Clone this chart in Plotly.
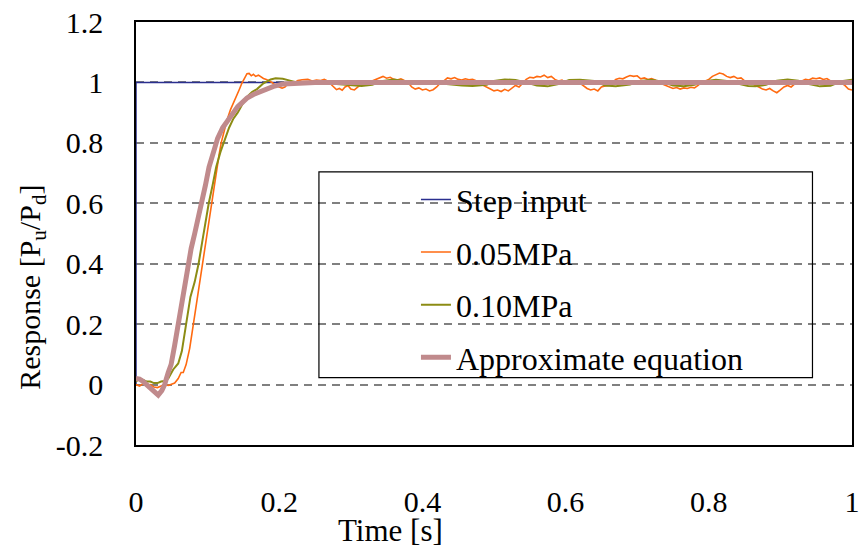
import plotly.graph_objects as go

# ---------------- data ----------------
step_t = [0, 0, 1.0]
step_v = [0, 1, 1]

p05_t = [0, 0.005, 0.01, 0.015, 0.02, 0.025, 0.03, 0.035, 0.04, 0.045, 0.049, 0.054, 0.059, 0.063,
         0.066, 0.070, 0.075, 0.080, 0.085, 0.089, 0.093, 0.097, 0.101, 0.105, 0.109, 0.113, 0.116,
         0.119, 0.123, 0.127, 0.132, 0.136, 0.140, 0.144, 0.148, 0.151, 0.155, 0.158, 0.161, 0.164,
         0.167, 0.171, 0.174, 0.178, 0.182, 0.186, 0.19, 0.195, 0.2, 0.204, 0.208, 0.212, 0.217, 0.222,
         0.226, 0.232, 0.24, 0.246, 0.252, 0.258, 0.263, 0.268, 0.274, 0.28, 0.284, 0.288, 0.292, 0.296,
         0.3, 0.305, 0.31, 0.316, 0.323, 0.33, 0.335, 0.34, 0.345, 0.35, 0.355, 0.36, 0.365, 0.37, 0.376,
         0.38, 0.385, 0.39, 0.395, 0.40, 0.405, 0.41, 0.415, 0.42, 0.425, 0.43, 0.435, 0.44, 0.445, 0.45,
         0.455, 0.46, 0.465, 0.47, 0.475, 0.48, 0.485, 0.49, 0.495, 0.50, 0.505, 0.51, 0.515, 0.52, 0.525,
         0.53, 0.535, 0.54, 0.545, 0.55, 0.555, 0.56, 0.565, 0.57, 0.575, 0.58, 0.585, 0.59, 0.595, 0.60,
         0.605, 0.61, 0.615, 0.62, 0.625, 0.63, 0.635, 0.64, 0.645, 0.65, 0.655, 0.66, 0.665, 0.67, 0.675,
         0.68, 0.685, 0.69, 0.695, 0.70, 0.705, 0.71, 0.715, 0.72, 0.725, 0.73, 0.735, 0.74, 0.745, 0.75,
         0.755, 0.76, 0.765, 0.77, 0.775, 0.78, 0.785, 0.79, 0.795, 0.80, 0.805, 0.81, 0.815, 0.82, 0.825,
         0.83, 0.835, 0.84, 0.845, 0.85, 0.855, 0.86, 0.865, 0.87, 0.875, 0.88, 0.885, 0.89, 0.895, 0.9,
         0.905, 0.91, 0.915, 0.92, 0.925, 0.93, 0.935, 0.94, 0.945, 0.95, 0.955, 0.96, 0.965, 0.97, 0.975,
         0.98, 0.985, 0.99, 0.995, 1.0]
p05_v = [0.0, -0.005, 0.003, -0.003, 0.0, -0.008, -0.01, -0.005, 0.0, -0.003, 0.0, 0.005, 0.02, 0.04,
         0.04, 0.066, 0.12, 0.2, 0.27, 0.33, 0.4, 0.47, 0.53, 0.6, 0.66, 0.72, 0.76,
         0.8, 0.84, 0.875, 0.91, 0.93, 0.954, 0.975, 0.998, 1.01, 1.029, 1.03, 1.022, 1.027,
         1.02, 1.024, 1.018, 1.013, 1.01, 1.005, 1.0, 0.99, 0.985, 0.981, 0.985, 0.995, 1.003, 1.0,
         1.006, 1.009, 1.01, 1.005, 1.008, 1.006, 1.01, 1.004, 0.99, 0.976, 0.98, 0.974, 0.985, 0.99,
         0.978, 0.975, 0.985, 0.995, 0.998, 1.005, 1.012, 1.017, 1.02, 1.014, 1.017, 1.01, 1.008, 1.012, 1.006,
         1.0, 0.985, 0.978, 0.982, 0.975, 0.978, 0.972, 0.976, 0.985, 0.998, 1.005, 1.015, 1.012, 1.016, 1.01,
         1.008, 1.012, 1.009, 1.01, 1.006, 1.0, 0.99, 0.985, 0.978, 0.972, 0.975, 0.97, 0.977, 0.972, 0.98,
         0.99, 0.985, 0.998, 1.01, 1.017, 1.015, 1.02, 1.018, 1.024, 1.016, 1.02, 1.01, 1.005, 1.008, 1.0,
         0.998, 1.002, 0.996, 0.998, 0.99, 0.98, 0.975, 0.978, 0.972, 0.985, 0.988, 0.99, 0.998, 1.01, 1.014,
         1.012, 1.018, 1.023, 1.02, 1.022, 1.012, 1.015, 1.01, 1.013, 1.008, 1.0, 0.995, 0.99, 0.985, 0.98,
         0.983, 0.978, 0.982, 0.98, 0.984, 0.982, 0.99, 1.0, 1.005, 1.01, 1.02, 1.025, 1.031, 1.028, 1.02,
         1.016, 1.02, 1.013, 1.015, 1.005, 1.0, 0.998, 0.99, 0.985, 0.978, 0.975, 0.98, 0.972, 0.966, 0.975,
         0.985, 0.99, 0.985, 0.995, 0.998, 1.005, 1.01, 1.008, 1.014, 1.012, 1.015, 1.01, 1.013, 1.005, 1.0,
         1.002, 0.998, 0.99, 0.978, 0.975]

p10_t = [0, 0.005, 0.01, 0.015, 0.02, 0.025, 0.03, 0.035, 0.04, 0.045, 0.052, 0.059, 0.064, 0.070, 0.076,
         0.082, 0.0874, 0.093, 0.0975, 0.1016, 0.107, 0.112, 0.118, 0.124, 0.130, 0.136, 0.142, 0.148,
         0.155, 0.162, 0.169, 0.178, 0.188, 0.195, 0.205, 0.215, 0.225, 0.24, 0.26, 0.28, 0.30, 0.315,
         0.33, 0.345, 0.36, 0.375, 0.39, 0.41, 0.43, 0.455, 0.47, 0.49, 0.50, 0.515, 0.53, 0.545, 0.56,
         0.575, 0.59, 0.605, 0.62, 0.64, 0.655, 0.67, 0.69, 0.705, 0.72, 0.735, 0.75, 0.765, 0.78, 0.795,
         0.81, 0.825, 0.84, 0.855, 0.865, 0.88, 0.895, 0.91, 0.925, 0.94, 0.955, 0.97, 0.985, 1.0]
p10_v = [0.01, 0.02, 0.015, 0.01, 0.01, 0.005, 0.005, 0.01, 0.012, 0.02, 0.05, 0.07, 0.11, 0.2, 0.29,
         0.34, 0.4, 0.48, 0.55, 0.6, 0.66, 0.72, 0.77, 0.81, 0.85, 0.88, 0.9, 0.925,
         0.952, 0.968, 0.978, 0.997, 1.01, 1.014, 1.012, 1.006, 1.0, 0.997, 1.0, 0.995, 0.99, 0.988,
         0.992, 1.005, 1.01, 1.006, 1.0, 0.998, 0.996, 0.99, 0.988, 0.992, 1.005, 1.01, 1.008, 1.0, 0.99,
         0.987, 0.995, 1.008, 1.009, 1.005, 0.99, 0.987, 0.993, 1.005, 1.009, 1.002, 0.99, 0.987, 0.992, 1.004,
         1.009, 1.005, 0.997, 0.988, 0.987, 0.992, 1.006, 1.01, 1.006, 0.995, 0.987, 0.989, 1.004, 1.009]

apx_t = [0, 0.005, 0.01, 0.017, 0.024, 0.031, 0.036, 0.040, 0.045, 0.049, 0.054, 0.059, 0.065, 0.072,
         0.077, 0.082, 0.087, 0.091, 0.097, 0.102, 0.108, 0.114, 0.121, 0.128, 0.135, 0.142, 0.149,
         0.155, 0.164, 0.174, 0.183, 0.192, 0.206, 0.225, 0.25, 0.3, 0.5, 0.7, 1.0]
apx_v = [0.02, 0.018, 0.01, -0.005, -0.02, -0.035, -0.02, 0.0, 0.04, 0.066, 0.13, 0.2, 0.3, 0.4,
         0.45, 0.5, 0.55, 0.6, 0.66, 0.72, 0.77, 0.815, 0.85, 0.875, 0.9, 0.92, 0.935,
         0.948, 0.96, 0.97, 0.978, 0.987, 0.995, 0.998, 1.0, 1.0, 1.0, 1.0, 1.0]

series_names = ["Step input", "0.05MPa", "0.10MPa", "Approximate equation"]
x_ticks = [0, 0.2, 0.4, 0.6, 0.8, 1]
x_tick_text = ["0", "0.2", "0.4", "0.6", "0.8", "1"]
y_ticks = [-0.2, 0, 0.2, 0.4, 0.6, 0.8, 1, 1.2]
y_tick_text = ["-0.2", "0", "0.2", "0.4", "0.6", "0.8", "1", "1.2"]
x_range = [0, 1]
y_range = [-0.2, 1.2]

FONT = "Liberation Serif"

fig = go.Figure()
fig.add_trace(go.Scatter(x=step_t, y=step_v, mode="lines", name=series_names[0],
                         line=dict(color="#2A2F8F", width=1.5), legendgroup="a"))
fig.add_trace(go.Scatter(x=p05_t, y=p05_v, mode="lines", name=series_names[1],
                         line=dict(color="#FF6A10", width=1.6), legendgroup="b"))
fig.add_trace(go.Scatter(x=p10_t, y=p10_v, mode="lines", name=series_names[2],
                         line=dict(color="#8C8C14", width=2), legendgroup="c"))
fig.add_trace(go.Scatter(x=apx_t, y=apx_v, mode="lines", name=series_names[3],
                         line=dict(color="#C08A8C", width=5), legendgroup="d"))

fig.update_layout(
    width=865, height=547,
    margin=dict(l=136, r=5, t=22, b=101.5),
    paper_bgcolor="white", plot_bgcolor="white",
    font=dict(family=FONT, size=30, color="black"),
    showlegend=True,
    legend=dict(x=0.391, xanchor="left", y=0.645, yanchor="top",
                bgcolor="rgba(0,0,0,0)", borderwidth=0,
                font=dict(family=FONT, size=32, color="black"),
                tracegroupgap=8, traceorder="grouped"),
    # primary axes: labels pushed away from the frame with invisible outside ticks
    xaxis=dict(range=x_range, tickvals=x_ticks, ticktext=x_tick_text,
               showgrid=False, zeroline=False,
               showline=True, linecolor="black", linewidth=1.5, mirror=True,
               ticks="outside", ticklen=29, tickcolor="rgba(0,0,0,0)",
               ticklabeloverflow="allow",
               tickfont=dict(family=FONT, size=30, color="black")),
    yaxis=dict(range=y_range, tickvals=y_ticks, ticktext=y_tick_text,
               showgrid=True, gridcolor="#808080", gridwidth=1.5, griddash="8px,6px",
               zeroline=False,
               showline=True, linecolor="black", linewidth=1.5, mirror=True,
               ticks="outside", ticklen=25, tickcolor="rgba(0,0,0,0)",
               ticklabeloverflow="allow",
               tickfont=dict(family=FONT, size=30, color="black")),
    # overlay axes: the short inside tick marks
    xaxis2=dict(range=x_range, tickvals=x_ticks, overlaying="x", anchor="y", side="bottom",
                showticklabels=False, showgrid=False, zeroline=False, showline=False,
                ticks="inside", ticklen=6, tickcolor="black", tickwidth=1),
    yaxis2=dict(range=y_range, tickvals=y_ticks, overlaying="y", anchor="x", side="left",
                showticklabels=False, showgrid=False, zeroline=False, showline=False,
                ticks="inside", ticklen=6, tickcolor="black", tickwidth=1.5),
    shapes=[dict(type="rect", xref="paper", yref="paper",
                 x0=0.2555, x1=0.9448, y0=0.1594, y1=0.6458,
                 line=dict(color="black", width=1.2), fillcolor="rgba(0,0,0,0)")],
    annotations=[
        dict(text="Time [s]", xref="paper", yref="paper", x=0.356, y=-0.203,
             xanchor="center", yanchor="middle", showarrow=False,
             font=dict(family=FONT, size=31, color="black")),
        dict(text="Response [P<sub>u</sub>/P<sub>d</sub>]", xref="paper", yref="paper",
             x=-0.1464, y=0.372, xanchor="center", yanchor="middle", textangle=-90,
             showarrow=False, font=dict(family=FONT, size=30, color="black")),
    ],
)

fig.write_html("out.html")
